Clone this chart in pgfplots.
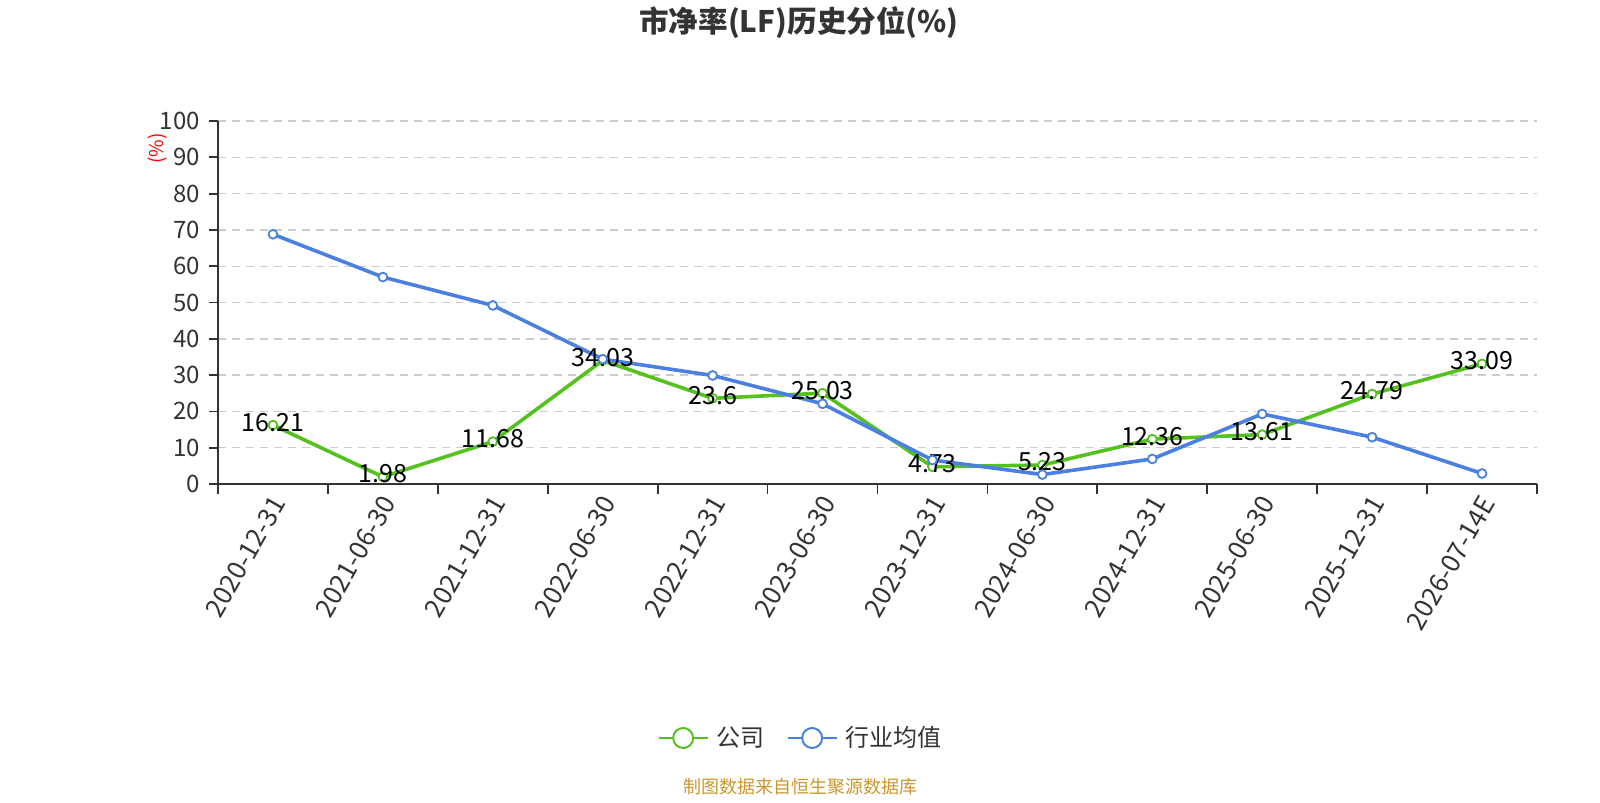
\documentclass[border=0pt]{standalone}
\usepackage{fontspec}
\setmainfont{Noto Sans CJK SC}
\usepackage{pgfplots}
\usepackage{pgfplotstable}
\pgfplotsset{compat=1.18}
\definecolor{cgreen}{RGB}{84,193,30}
\definecolor{cblue}{RGB}{74,128,226}
\definecolor{ctext}{RGB}{51,51,51}
\definecolor{csrc}{RGB}{204,150,46}
\pgfplotstableread{
x y lab
0 16.21 16.21
1 1.98 1.98
2 11.68 11.68
3 34.03 34.03
4 23.6 23.6
5 25.03 25.03
6 4.73 4.73
7 5.23 5.23
8 12.36 12.36
9 13.61 13.61
10 24.79 24.79
11 33.09 33.09
}\company
\pgfplotstableread{
x y
0 68.8
1 57.0
2 49.2
3 34.4
4 29.9
5 22.1
6 6.6
7 2.6
8 6.9
9 19.3
10 12.9
11 2.9
}\industry
\begin{document}
\begin{tikzpicture}
\path (0,0) rectangle (800pt,400pt);
\node[font=\bfseries\fontsize{14.8pt}{17pt}\selectfont, text=ctext] at (399.5pt,388.5pt) {市净率(LF)历史分位(\%)};
\node[font=\fontsize{9pt}{11pt}\selectfont, text=csrc] at (400pt,6.5pt) {制图数据来自恒生聚源数据库};
\begin{axis}[
  at={(109pt,158pt)}, anchor=south west,
  scale only axis, width=659.5pt, height=181.5pt,
  xmin=-0.5, xmax=11.5, ymin=0, ymax=100,
  axis x line*=bottom, axis y line*=left,
  axis line style={ctext, line width=0.9pt, -},
  xtick={0,...,11},
  xticklabels={2020-12-31,2021-06-30,2021-12-31,2022-06-30,2022-12-31,2023-06-30,2023-12-31,2024-06-30,2024-12-31,2025-06-30,2025-12-31,2026-07-14E},
  minor xtick={-0.5,0.5,...,11.5},
  major x tick style={draw=none},
  minor x tick style={ctext, line width=0.9pt},
  tick align=outside,
  minor tick length=5pt,
  major tick length=4.5pt,
  ytick={0,10,...,100},
  y tick style={ctext, line width=0.9pt},
  xticklabel style={rotate=60, anchor=east, font=\fontsize{13pt}{15pt}\selectfont, text=ctext, yshift=-4pt, xshift=2.5pt},
  yticklabel style={font=\fontsize{12pt}{14pt}\selectfont, text=ctext, xshift=-1pt},
  /pgf/number format/assume math mode=true,
  ymajorgrids, grid style={dash pattern=on 4pt off 3pt, black!20, line width=0.7pt},
  clip=false,
  legend style={at={(0.4425,-0.6997)}, anchor=center, draw=none, fill=none, legend columns=2,
    font=\fontsize{12pt}{14pt}\selectfont, text=ctext,
    /tikz/every even column/.append style={column sep=9pt},
    nodes={inner sep=2pt}},
  legend image code/.code={\draw[line width=1pt] (0pt,0pt) -- (24.5pt,0pt); \draw[fill=white, line width=1pt] (12.25pt,0pt) circle (5pt);},
]
\node[rotate=90, text=red, font=\fontsize{9.5pt}{11pt}\selectfont] at (axis description cs:-0.0460,0.9245) {(\%)};
\addplot[cgreen, line width=1.8pt, mark=*, mark size=2.2pt, mark options={fill=white, line width=0.9pt},
  nodes near coords, point meta=explicit symbolic,
  every node near coord/.append style={anchor=center, yshift=1.5pt, text=black, font=\fontsize{12.5pt}{14pt}\selectfont}]
  table[x=x, y=y, meta=lab] {\company};
\addlegendentry{\hspace{2pt}公司}
\addplot[cblue, line width=1.8pt, mark=*, mark size=2.2pt, mark options={fill=white, line width=0.9pt}]
  table[x=x, y=y] {\industry};
\addlegendentry{\hspace{2pt}行业均值}
\end{axis}
\end{tikzpicture}
\end{document}
